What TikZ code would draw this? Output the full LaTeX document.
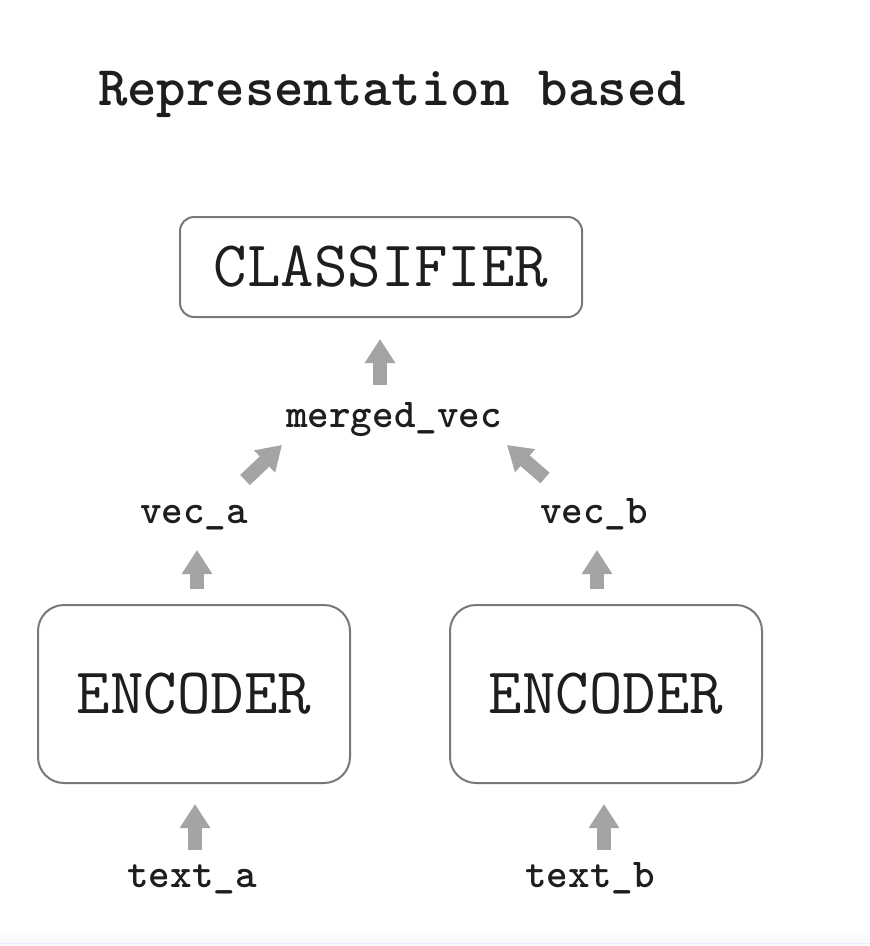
\documentclass[tikz,border=0pt]{standalone}
\usepackage{fontspec}
\usetikzlibrary{arrows.meta}
\definecolor{boxline}{HTML}{787878}
\definecolor{arrowgray}{HTML}{A4A4A4}
\definecolor{inkc}{HTML}{1E1E1E}
\tikzset{
  box/.style={draw=boxline, line width=2pt, text=inkc, font=\ttfamily\fontsize{65}{70}\selectfont, inner sep=0pt},
  lbl/.style={text=inkc, font=\ttfamily\bfseries\fontsize{41}{46}\selectfont, inner sep=0pt, anchor=base},
  bigarrow/.style={draw=arrowgray, line width=14pt, -{Triangle[length=24pt,width=29pt]}, arrowgray}
}
\begin{document}
\begin{tikzpicture}[x=1pt,y=-1pt]
\useasboundingbox (0,0) rectangle (870,946);
\fill[white] (0,0) rectangle (870,946);
\fill[black!2] (0,935) rectangle (870,946);
\draw[blue!8, line width=1pt] (0,943) -- (870,943);

\node[text=inkc, font=\ttfamily\bfseries\fontsize{56}{60}\selectfont, inner sep=0pt, anchor=base] (title) at (392,105) {Representation based};

\node[box, minimum width=402pt, minimum height=100pt, rounded corners=14pt] (cls) at (381,267) {CLASSIFIER};
\node[lbl] (merged) at (394,427) {merged\_vec};
\node[lbl] (veca) at (194,523) {vec\_a};
\node[lbl] (vecb) at (594,523) {vec\_b};
\node[box, minimum width=312pt, minimum height=178pt, rounded corners=26pt] (encA) at (194,694) {ENCODER};
\node[box, minimum width=312pt, minimum height=178pt, rounded corners=26pt] (encB) at (606,694) {ENCODER};
\node[lbl] (texta) at (192,887) {text\_a};
\node[lbl] (textb) at (590,887) {text\_b};

% arrows
\draw[bigarrow] ([shift={(-14,-42)}]merged.base) -- ([shift={(-1,21)}]cls.south);
\draw[bigarrow] ([shift={(51,-43)}]veca.base) -- ([shift={(-112,18)}]merged.base);
\draw[bigarrow] ([shift={(-49,-45)}]vecb.base) -- ([shift={(113,18)}]merged.base);
\draw[bigarrow] ([shift={(3,-15)}]encA.north) -- ([shift={(3,27)}]veca.base);
\draw[bigarrow] ([shift={(-9,-15)}]encB.north) -- ([shift={(3,27)}]vecb.base);
\draw[bigarrow] ([shift={(3,-37)}]texta.base) -- ([shift={(1,20)}]encA.south);
\draw[bigarrow] ([shift={(14,-37)}]textb.base) -- ([shift={(-2,20)}]encB.south);
\end{tikzpicture}
\end{document}
